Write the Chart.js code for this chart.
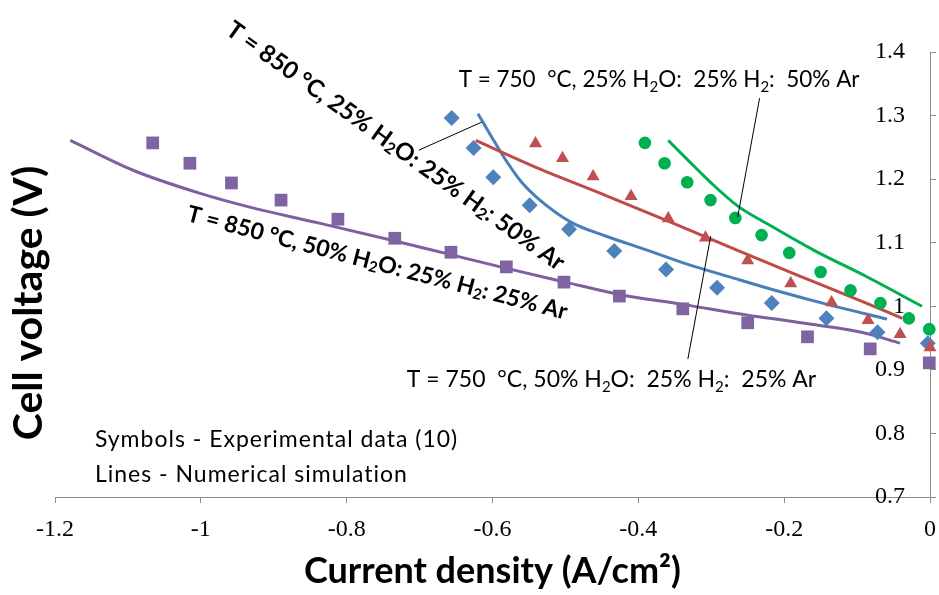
<!DOCTYPE html>
<html><head><meta charset="utf-8">
<script src="https://cdn.jsdelivr.net/npm/chart.js@4.4.0/dist/chart.umd.min.js"></script>
<style>html,body{margin:0;padding:0;background:#fff;}#wrap{width:939px;height:595px;position:relative;}</style>
</head><body><div id="wrap"><canvas id="c" width="939" height="595"></canvas></div>
<script>
// ---- tick values / labels ----
const xTickValues = [-1.2, -1, -0.8, -0.6, -0.4, -0.2, 0];
const xTickLabels = ['-1.2', '-1', '-0.8', '-0.6', '-0.4', '-0.2', '0'];
const yTickValues = [0.7, 0.8, 0.9, 1.0, 1.1, 1.2, 1.3, 1.4];
const yTickLabels = ['0.7', '0.8', '0.9', '1', '1.1', '1.2', '1.3', '1.4'];

// ---- experimental data (symbols) ----
const exp850_25_x = [-0.656, -0.626, -0.599, -0.549, -0.495, -0.433, -0.362, -0.292, -0.217, -0.142, -0.072, -0.003];
const exp850_25_y = [1.296, 1.249, 1.203, 1.159, 1.121, 1.087, 1.058, 1.029, 1.005, 0.981, 0.959, 0.942];
const exp750_50_x = [-0.541, -0.504, -0.462, -0.410, -0.359, -0.308, -0.250, -0.191, -0.135, -0.085, -0.041, 0.000];
const exp750_50_y = [1.256, 1.233, 1.204, 1.173, 1.138, 1.108, 1.072, 1.036, 1.006, 0.978, 0.956, 0.935];
const exp750_25_x = [-0.391, -0.364, -0.333, -0.301, -0.267, -0.231, -0.193, -0.150, -0.109, -0.068, -0.029, -0.001];
const exp750_25_y = [1.257, 1.225, 1.195, 1.167, 1.139, 1.112, 1.084, 1.054, 1.025, 1.005, 0.981, 0.964];
const exp850_50_x = [-1.066, -1.015, -0.958, -0.890, -0.812, -0.734, -0.657, -0.581, -0.502, -0.426, -0.339, -0.250, -0.168, -0.082, -0.001];
const exp850_50_y = [1.257, 1.225, 1.194, 1.167, 1.137, 1.107, 1.085, 1.062, 1.038, 1.016, 0.996, 0.974, 0.952, 0.933, 0.911];

// ---- numerical simulation (lines) ----
const sim850_25_x = [-0.620, -0.601, -0.583, -0.560, -0.537, -0.492, -0.446, -0.387, -0.332, -0.277, -0.209, -0.141, -0.059];
const sim850_25_y = [1.303, 1.266, 1.232, 1.195, 1.169, 1.132, 1.111, 1.088, 1.066, 1.047, 1.024, 1.003, 0.980];
const sim750_50_x = [-0.623, -0.537, -0.446, -0.355, -0.264, -0.182, -0.100, -0.038];
const sim750_50_y = [1.261, 1.217, 1.175, 1.132, 1.088, 1.049, 1.011, 0.981];
const sim750_25_x = [-0.359, -0.332, -0.301, -0.264, -0.219, -0.159, -0.086, -0.011];
const sim750_25_y = [1.261, 1.230, 1.195, 1.158, 1.127, 1.088, 1.046, 1.000];
const sim850_50_x = [-1.179, -1.093, -1.002, -0.933, -0.842, -0.738, -0.660, -0.582, -0.500, -0.428, -0.339, -0.250, -0.182, -0.090, -0.041];
const sim850_50_y = [1.261, 1.214, 1.178, 1.156, 1.132, 1.104, 1.082, 1.060, 1.038, 1.019, 1.003, 0.986, 0.975, 0.958, 0.942];

// ---- annotations (data units) ----
const noteTexts = [
  'T = 850 °C, 25% H₂O: 25% H₂: 50% Ar',
  'T = 850 °C, 50% H₂O: 25% H₂: 25% Ar',
  'T = 750  °C, 25% H₂O:  25% H₂:  50% Ar',
  'T = 750  °C, 50% H₂O:  25% H₂:  25% Ar',
  'Symbols - Experimental data (10)',
  'Lines - Numerical simulation'
];
const notePos = [
  {x: -0.733, y: 1.252, angle: 35.6, align: 'center', size: 24, weight: 'bold', spacing: 0},
  {x: -0.758, y: 1.068, angle: 14.6, align: 'center', size: 23, weight: 'bold', spacing: 0},
  {x: -0.6464, y: 1.3447, angle: 0, align: 'left', size: 22.5, weight: 'normal', spacing: 0},
  {x: -0.7175, y: 0.873, angle: 0, align: 'left', size: 23, weight: 'normal', spacing: 0},
  {x: -1.1453, y: 0.7786, angle: 0, align: 'left', size: 23, weight: 'normal', spacing: 1},
  {x: -1.1453, y: 0.7236, angle: 0, align: 'left', size: 23, weight: 'normal', spacing: 1}
];
const leaderLines = [
  [-0.701, 1.2456, -0.615, 1.2896],
  [-0.2337, 1.3274, -0.2638, 1.1403],
  [-0.3007, 1.1104, -0.3321, 0.9170]
];

const pts = (xs, ys) => xs.map((v, i) => ({x: v, y: ys[i]}));

const C = {
  blueL: '#4A7EBB', blueM: '#4F81BD',
  redL: '#BE4B48', redM: '#C0504D',
  green: '#00B050',
  purL: '#7D60A0', purM: '#8064A2'
};

function lineDs(label, xs, ys, color) {
  return {label, data: pts(xs, ys), showLine: true, borderColor: color, backgroundColor: color,
    borderWidth: 3, pointRadius: 0, tension: 0.4, cubicInterpolationMode: 'monotone', clip: false};
}
function markDs(label, xs, ys, color, style, r) {
  return {label, data: pts(xs, ys), showLine: false, borderColor: color, backgroundColor: color,
    pointStyle: style, pointRadius: r, pointBorderWidth: 0, clip: false};
}

const datasets = [
  markDs('750 °C, 25% H2O exp', exp750_25_x, exp750_25_y, C.green, 'circle', 6.3),
  lineDs('750 °C, 25% H2O sim', sim750_25_x, sim750_25_y, C.green),
  markDs('750 °C, 50% H2O exp', exp750_50_x, exp750_50_y, C.redM, 'triangle', 7.5),
  lineDs('750 °C, 50% H2O sim', sim750_50_x, sim750_50_y, C.redL),
  markDs('850 °C, 25% H2O exp', exp850_25_x, exp850_25_y, C.blueM, 'rectRot', 8),
  lineDs('850 °C, 25% H2O sim', sim850_25_x, sim850_25_y, C.blueL),
  markDs('850 °C, 50% H2O exp', exp850_50_x, exp850_50_y, C.purM, 'rect', 9),
  lineDs('850 °C, 50% H2O sim', sim850_50_x, sim850_50_y, C.purL)
];

const NOTE_FONT = 'Lato, "Noto Sans", sans-serif';

function drawRich(ctx, text, size, weight, align) {
  const parts = text.split(/(₂)/).filter(s => s.length);
  const main = `${weight} ${size}px ${NOTE_FONT}`;
  const sub = `${weight} ${Math.round(size * 0.65)}px ${NOTE_FONT}`;
  let total = 0;
  const widths = parts.map(p => {
    ctx.font = p === '₂' ? sub : main;
    const w = ctx.measureText(p === '₂' ? '2' : p).width;
    total += w; return w;
  });
  let cx = align === 'center' ? -total / 2 : 0;
  ctx.textAlign = 'left';
  parts.forEach((p, i) => {
    if (p === '₂') { ctx.font = sub; ctx.fillText('2', cx, size * 0.22); }
    else { ctx.font = main; ctx.fillText(p, cx, 0); }
    cx += widths[i];
  });
}

const annotPlugin = {
  id: 'annot',
  afterDraw(chart) {
    const {ctx} = chart;
    const xs = chart.scales.x, ys = chart.scales.y;
    ctx.save();
    ctx.strokeStyle = '#000';
    ctx.lineWidth = 1;
    leaderLines.forEach(l => {
      ctx.beginPath();
      ctx.moveTo(xs.getPixelForValue(l[0]), ys.getPixelForValue(l[1]));
      ctx.lineTo(xs.getPixelForValue(l[2]), ys.getPixelForValue(l[3]));
      ctx.stroke();
    });
    ctx.fillStyle = '#000';
    noteTexts.forEach((t, i) => {
      const p = notePos[i];
      ctx.save();
      ctx.letterSpacing = p.spacing + 'px';
      ctx.translate(xs.getPixelForValue(p.x), ys.getPixelForValue(p.y));
      ctx.rotate(p.angle * Math.PI / 180);
      ctx.textBaseline = p.align === 'center' ? 'middle' : 'alphabetic';
      drawRich(ctx, t, p.size, p.weight, p.align);
      ctx.restore();
    });
    // y-axis title (drawn at the left edge)
    ctx.save();
    ctx.translate(29, 303);
    ctx.rotate(-Math.PI / 2);
    ctx.textAlign = 'center';
    ctx.textBaseline = 'middle';
    ctx.font = 'bold 41px Lato, sans-serif';
    ctx.fillText('Cell voltage (V)', 0, 0);
    ctx.restore();
    ctx.restore();
  }
};

const axisColor = '#8c8c8c';
const tickFont = {family: '"Liberation Serif", serif', size: 24};

new Chart(document.getElementById('c').getContext('2d'), {
  type: 'scatter',
  data: {datasets},
  options: {
    responsive: false,
    animation: false,
    layout: {padding: {left: 55, top: 52, right: 0, bottom: 0}},
    plugins: {legend: {display: false}, tooltip: {enabled: false}},
    scales: {
      x: {
        type: 'linear', position: 'bottom', min: -1.2, max: 0,
        afterBuildTicks: s => { s.ticks = xTickValues.map(v => ({value: v})); },
        afterFit: s => { s.height = 98; s.paddingRight = 0; s.paddingLeft = 0; },
        grid: {drawOnChartArea: false, drawTicks: true, tickLength: 6, color: axisColor, lineWidth: 1},
        border: {display: true, color: axisColor, width: 1},
        ticks: {font: tickFont, color: '#000', padding: 12, maxRotation: 0, autoSkip: false,
          callback: (v, i) => xTickLabels[i]},
        title: {display: true, text: 'Current density (A/cm²)', color: '#000',
          font: {family: 'Lato, sans-serif', size: 36, weight: 'bold'}, padding: {top: 0, bottom: 2}}
      },
      y: {
        type: 'linear', position: 'right', min: 0.7, max: 1.4,
        afterBuildTicks: s => { s.ticks = yTickValues.map(v => ({value: v})); },
        afterFit: s => { s.width = 6; },
        grid: {drawOnChartArea: false, drawTicks: true, tickLength: 6, color: axisColor, lineWidth: 1},
        border: {display: true, color: axisColor, width: 1},
        ticks: {mirror: true, padding: -25, font: tickFont, color: '#000', autoSkip: false,
          callback: (v, i) => yTickLabels[i]}
      }
    }
  },
  plugins: [annotPlugin]
});
</script>
</body></html>
